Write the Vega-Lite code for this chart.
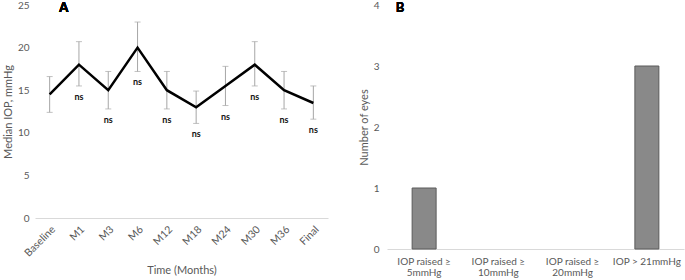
{
  "$schema": "https://vega.github.io/schema/vega-lite/v6.json",
  "padding": {"left": 2, "top": 0, "right": 1, "bottom": 0},
  "config": {
    "font": "Lato",
    "view": {"stroke": null},
    "axis": {"labelColor": "#595959", "titleColor": "#595959", "labelFontSize": 10, "titleFontSize": 11, "titleFontWeight": "normal", "grid": false, "ticks": false, "domainColor": "#d9d9d9", "labelFont": "Lato", "titleFont": "Lato"}
  },
  "datasets": {
    "iop": [
      {"time": "Baseline", "median": 14.5, "low": 12.4, "high": 16.6, "sig": ""},
      {"time": "M1", "median": 18, "low": 15.5, "high": 20.7, "sig": "ns"},
      {"time": "M3", "median": 15, "low": 12.8, "high": 17.2, "sig": "ns"},
      {"time": "M6", "median": 20, "low": 17.2, "high": 23.0, "sig": "ns"},
      {"time": "M12", "median": 15, "low": 12.8, "high": 17.2, "sig": "ns"},
      {"time": "M18", "median": 13, "low": 11.1, "high": 14.9, "sig": "ns"},
      {"time": "M24", "median": 15.5, "low": 13.2, "high": 17.8, "sig": "ns"},
      {"time": "M30", "median": 18, "low": 15.5, "high": 20.7, "sig": "ns"},
      {"time": "M36", "median": 15, "low": 12.8, "high": 17.2, "sig": "ns"},
      {"time": "Final", "median": 13.5, "low": 11.6, "high": 15.5, "sig": "ns"}
    ],
    "eyes": [
      {"category": "IOP raised ≥ 5mmHg", "eyes": 1},
      {"category": "IOP raised ≥ 10mmHg", "eyes": 0},
      {"category": "IOP raised ≥ 20mmHg", "eyes": 0},
      {"category": "IOP > 21mmHg", "eyes": 3}
    ]
  },
  "spacing": 30,
  "hconcat": [
    {
      "width": 293,
      "height": 213,
      "data": {"name": "iop"},
      "encoding": {
        "x": {"field": "time", "type": "ordinal", "sort": null, "scale": {"type": "point", "padding": 0.5},
          "axis": {"labelAngle": -45, "title": "Time (Months)", "labelPadding": 6, "titlePadding": 6, "labelFontSize": 10.5}}
      },
      "layer": [
        {
          "mark": {"type": "errorbar", "color": "#a6a6a6", "ticks": {"size": 6, "color": "#a6a6a6"}, "rule": {"color": "#a6a6a6"}},
          "encoding": {
            "y": {"field": "low", "type": "quantitative", "scale": {"domain": [0, 25], "nice": false}, "axis": {"title": "Median IOP, mmHg", "values": [0, 5, 10, 15, 20, 25], "domain": false, "labelPadding": 6}},
            "y2": {"field": "high"}
          }
        },
        {
          "mark": {"type": "line", "color": "#000000", "strokeWidth": 2.5},
          "encoding": {
            "y": {"field": "median", "type": "quantitative", "scale": {"domain": [0, 25], "nice": false}, "title": "Median IOP, mmHg"}
          }
        },
        {
          "transform": [{"filter": "datum.sig != ''"}],
          "mark": {"type": "text", "fontWeight": "bold", "fontSize": 9, "dy": 11, "color": "#111111", "font": "Lato"},
          "encoding": {
            "y": {"field": "low", "type": "quantitative", "scale": {"domain": [0, 25], "nice": false}, "title": "Median IOP, mmHg"},
            "text": {"field": "sig"}
          }
        },
        {
          "mark": {"type": "text", "text": "A", "fontWeight": "bold", "fontSize": 13, "dx": 14, "dy": 3, "color": "#000000", "font": "Lato"},
          "encoding": {
            "x": {"datum": "Baseline"},
            "y": {"datum": 25}
          }
        }
      ]
    },
    {
      "width": 297,
      "height": 244,
      "data": {"name": "eyes"},
      "encoding": {
        "x": {"field": "category", "type": "nominal", "sort": null, "scale": {"paddingInner": 0.677},
          "axis": {"labelAngle": 0, "title": null, "labelPadding": 7, "labelLineHeight": 11.5,
            "labelExpr": "indexof(datum.label, 'raised') >= 0 ? [substring(datum.label, 0, 12), substring(datum.label, 13)] : datum.label"}},
        "y": {"field": "eyes", "type": "quantitative", "scale": {"domain": [0, 4], "nice": false},
          "axis": {"title": "Number of eyes", "values": [0, 1, 2, 3, 4], "domain": false, "labelPadding": 8}}
      },
      "layer": [
        {
          "mark": {"type": "bar", "color": "#898989", "stroke": "#5a5a5a", "strokeWidth": 1},
          "encoding": {
            "strokeOpacity": {"condition": {"test": "datum.eyes == 0", "value": 0}, "value": 1}
          }
        },
        {
          "mark": {"type": "text", "text": "B", "fontWeight": "bold", "fontSize": 13, "dx": -24, "dy": 3, "color": "#000000", "font": "Lato"},
          "encoding": {
            "x": {"datum": "IOP raised ≥ 5mmHg"},
            "y": {"datum": 4}
          }
        }
      ]
    }
  ]
}
